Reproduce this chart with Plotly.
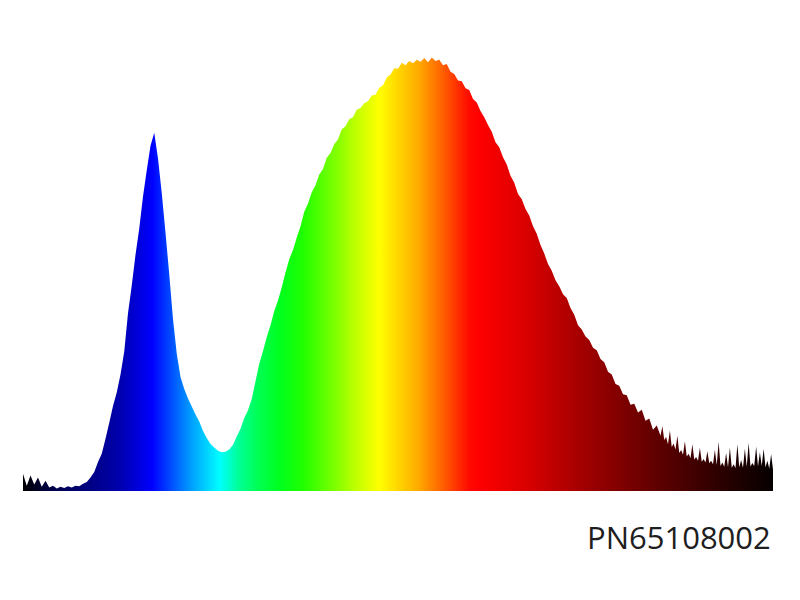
import plotly.graph_objects as go

# Wavelength grid (nm): 2 nm steps, 1 nm steps in the noisy red tail
wavelengths = list(range(380, 720, 2)) + list(range(720, 781, 1))

# Relative spectral intensity
intensity_main = [
    0.040, 0.012, 0.036, 0.015, 0.031, 0.010, 0.024, 0.008, 0.012, 0.006,
    0.010, 0.007, 0.011, 0.008, 0.012, 0.011, 0.017, 0.021, 0.031, 0.044,
    0.067, 0.086, 0.121, 0.158, 0.197, 0.228, 0.270, 0.323, 0.412, 0.476,
    0.547, 0.608, 0.682, 0.743, 0.800, 0.830, 0.770, 0.690, 0.598, 0.502,
    0.398, 0.318, 0.264, 0.236, 0.214, 0.196, 0.177, 0.161, 0.139, 0.123,
    0.109, 0.101, 0.093, 0.090, 0.091, 0.096, 0.107, 0.126, 0.144, 0.169,
    0.187, 0.213, 0.254, 0.295, 0.324, 0.357, 0.384, 0.417, 0.441, 0.472,
    0.506, 0.537, 0.558, 0.587, 0.613, 0.647, 0.666, 0.692, 0.708, 0.733,
    0.746, 0.772, 0.783, 0.803, 0.815, 0.838, 0.845, 0.861, 0.866, 0.883,
    0.887, 0.898, 0.903, 0.916, 0.918, 0.934, 0.940, 0.958, 0.965, 0.979,
    0.978, 0.992, 0.986, 0.996, 0.991, 0.999, 0.994, 1.003, 0.993, 1.004,
    0.996, 0.999, 0.986, 0.989, 0.971, 0.966, 0.951, 0.949, 0.933, 0.929,
    0.908, 0.900, 0.880, 0.866, 0.848, 0.832, 0.808, 0.796, 0.773, 0.756,
    0.730, 0.714, 0.688, 0.676, 0.653, 0.638, 0.613, 0.596, 0.570, 0.550,
    0.526, 0.510, 0.488, 0.474, 0.456, 0.447, 0.424, 0.408, 0.384, 0.374,
    0.358, 0.350, 0.332, 0.326, 0.306, 0.298, 0.276, 0.270, 0.248, 0.244,
    0.224, 0.222, 0.200, 0.202, 0.182, 0.188, 0.163, 0.168, 0.142, 0.152,
]
intensity_tail = [
    0.128, 0.150, 0.118, 0.125, 0.108, 0.140, 0.102, 0.110, 0.096, 0.128,
    0.088, 0.095, 0.084, 0.115, 0.080, 0.086, 0.076, 0.108, 0.073, 0.079,
    0.070, 0.100, 0.068, 0.074, 0.066, 0.092, 0.064, 0.070, 0.062, 0.095,
    0.060, 0.114, 0.058, 0.066, 0.056, 0.088, 0.055, 0.100, 0.054, 0.062,
    0.053, 0.108, 0.055, 0.072, 0.054, 0.098, 0.056, 0.112, 0.057, 0.065,
    0.058, 0.103, 0.057, 0.090, 0.058, 0.098, 0.055, 0.070, 0.052, 0.085,
    0.050,
]
intensity = intensity_main + intensity_tail
part_number = "PN65108002"

# Spectrum colour stops (nm, colour)
spectrum_stops = [
    (380, "rgb(0,0,0)"), (392, "rgb(0,0,60)"), (415, "rgb(0,0,130)"),
    (432, "rgb(0,0,175)"), (449, "rgb(0,0,255)"), (462, "rgb(0,100,255)"),
    (470, "rgb(0,160,255)"), (485, "rgb(0,255,255)"), (495, "rgb(0,255,150)"),
    (506, "rgb(0,255,80)"), (517, "rgb(0,255,30)"), (529, "rgb(30,255,0)"),
    (547, "rgb(130,255,0)"), (559, "rgb(200,255,0)"), (570, "rgb(255,255,0)"),
    (581, "rgb(255,210,0)"), (591, "rgb(255,170,0)"), (603, "rgb(255,100,0)"),
    (618, "rgb(255,10,0)"), (623, "rgb(255,0,0)"), (644, "rgb(225,0,0)"),
    (680, "rgb(160,0,0)"), (715, "rgb(100,0,0)"), (751, "rgb(45,0,0)"),
    (780, "rgb(5,0,0)"),
]
wl_min, wl_max = 380, 780
colorscale = [[(w - wl_min) / (wl_max - wl_min), c] for w, c in spectrum_stops]

n = min(len(wavelengths), len(intensity))
fig = go.Figure()
fig.add_trace(go.Scatter(
    x=wavelengths[:n], y=intensity[:n],
    mode="none", fill="tozeroy",
    fillgradient=dict(type="horizontal", colorscale=colorscale,
                      start=wl_min, stop=wl_max),
    hoverinfo="skip", showlegend=False,
))

fig.add_annotation(
    text=part_number, xref="paper", yref="paper", x=1.0, y=-0.104,
    xanchor="right", yanchor="middle", showarrow=False,
    font=dict(family="Open Sans", size=31, color="#1e1e1e"),
)

fig.update_layout(
    width=800, height=600,
    margin=dict(l=15, r=35, t=42, b=117),
    paper_bgcolor="white", plot_bgcolor="white",
    xaxis=dict(range=[wl_min, wl_max], visible=False),
    yaxis=dict(range=[0, 1.0215], visible=False),
)

fig.write_html("out.html")
